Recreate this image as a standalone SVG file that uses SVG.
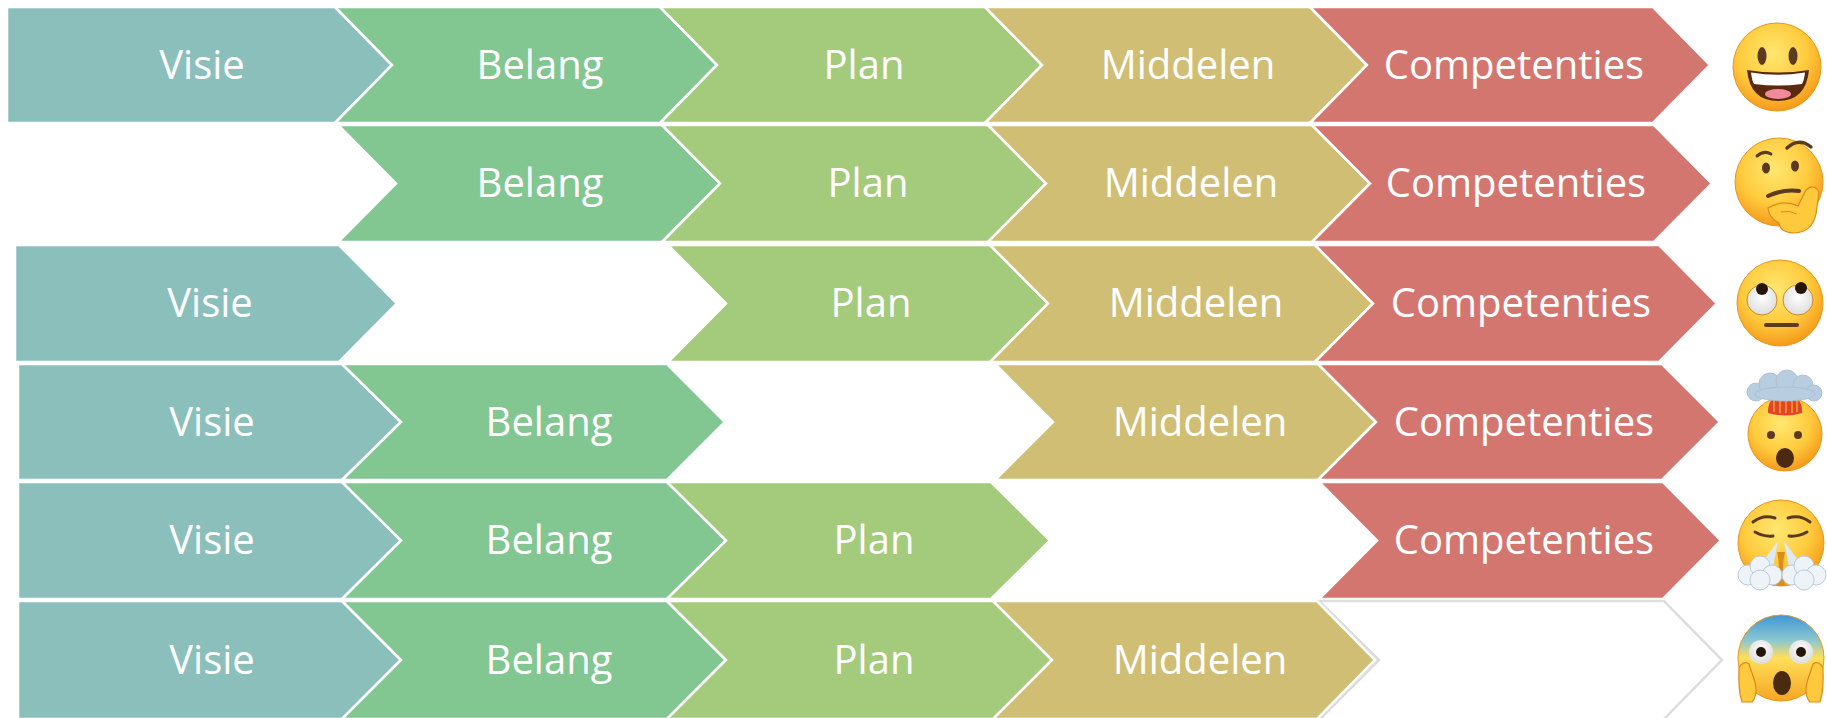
<svg xmlns="http://www.w3.org/2000/svg" width="1827" height="718" viewBox="0 0 1827 718">
<style>
  .sh { stroke: #ffffff; stroke-width: 2.5; stroke-linejoin: miter; }
  .visie { fill: #8ABFBC; }
  .belang { fill: #82C692; }
  .plan { fill: #A4CA7C; }
  .middelen { fill: #D0BE74; }
  .comp { fill: #D47670; }
  .lbl { font-family: "Open Sans", "Liberation Sans", sans-serif; font-size: 40px; fill: #ffffff; text-anchor: middle; }
  .ink { fill: #5B3A1E; }
  .line { fill: none; stroke: #5B3A1E; stroke-linecap: round; }
  .face { fill: url(#faceG); stroke: #E8961A; stroke-width: 1; }
  .hand { fill: #FFC93E; stroke: #D98A17; stroke-width: 1.2; }
  .cloud { fill: #EEF3F8; stroke: #B9CCDD; stroke-width: 1; }
</style>
<defs>
  <radialGradient id="faceG" cx="45%" cy="35%" r="65%">
    <stop offset="0%" stop-color="#FFE771"/>
    <stop offset="60%" stop-color="#FFCB3D"/>
    <stop offset="100%" stop-color="#F49A1C"/>
  </radialGradient>
  <linearGradient id="fearG" x1="0" y1="0" x2="0" y2="1">
    <stop offset="0%" stop-color="#3F97D6"/>
    <stop offset="30%" stop-color="#8DC8D0"/>
    <stop offset="50%" stop-color="#FFDF5A"/>
    <stop offset="100%" stop-color="#F5A623"/>
  </linearGradient>
  <radialGradient id="eyeW" cx="50%" cy="40%" r="60%">
    <stop offset="0%" stop-color="#FFFFFF"/>
    <stop offset="100%" stop-color="#DCDCDC"/>
  </radialGradient>
</defs>

<!-- Row 1 -->
<g id="r1-visie"><polygon class="sh visie" points="7,7 335,7 392,65 335,123 7,123"/><text class="lbl" x="202" y="79">Visie</text></g>
<g id="r1-belang"><polygon class="sh belang" points="335,7 660,7 717,65 660,123 335,123 392,65"/><text class="lbl" x="540" y="79">Belang</text></g>
<g id="r1-plan"><polygon class="sh plan" points="660,7 985,7 1042,65 985,123 660,123 717,65"/><text class="lbl" x="864" y="79">Plan</text></g>
<g id="r1-middelen"><polygon class="sh middelen" points="985,7 1310,7 1367,65 1310,123 985,123 1042,65"/><text class="lbl" x="1188" y="79">Middelen</text></g>
<g id="r1-comp"><polygon class="sh comp" points="1310,7 1653,7 1710,65 1653,123 1310,123 1367,65"/><text class="lbl" x="1514" y="79">Competenties</text></g>

<!-- Row 2 -->
<g id="r2-belang"><polygon class="sh belang" points="338,125 662,125 720,183.5 662,242 338,242 396,183.5"/><text class="lbl" x="540" y="197">Belang</text></g>
<g id="r2-plan"><polygon class="sh plan" points="662,125 988,125 1046,183.5 988,242 662,242 720,183.5"/><text class="lbl" x="868" y="197">Plan</text></g>
<g id="r2-middelen"><polygon class="sh middelen" points="988,125 1312,125 1370,183.5 1312,242 988,242 1046,183.5"/><text class="lbl" x="1191" y="197">Middelen</text></g>
<g id="r2-comp"><polygon class="sh comp" points="1312,125 1654,125 1712,183.5 1654,242 1312,242 1370,183.5"/><text class="lbl" x="1516" y="197">Competenties</text></g>

<!-- Row 3 -->
<g id="r3-visie"><polygon class="sh visie" points="15,245 339,245 397,303.5 339,362 15,362"/><text class="lbl" x="210" y="317">Visie</text></g>
<g id="r3-plan"><polygon class="sh plan" points="668,245 990,245 1048,303.5 990,362 668,362 726,303.5"/><text class="lbl" x="871" y="317">Plan</text></g>
<g id="r3-middelen"><polygon class="sh middelen" points="990,245 1315,245 1373,303.5 1315,362 990,362 1048,303.5"/><text class="lbl" x="1196" y="317">Middelen</text></g>
<g id="r3-comp"><polygon class="sh comp" points="1315,245 1659,245 1717,303.5 1659,362 1315,362 1373,303.5"/><text class="lbl" x="1521" y="317">Competenties</text></g>

<!-- Row 4 -->
<g id="r4-visie"><polygon class="sh visie" points="18,364 342,364 401,422 342,480 18,480"/><text class="lbl" x="212" y="436">Visie</text></g>
<g id="r4-belang"><polygon class="sh belang" points="342,364 667,364 725,422 667,480 342,480 401,422"/><text class="lbl" x="549" y="436">Belang</text></g>
<g id="r4-middelen"><polygon class="sh middelen" points="995,364 1318,364 1376,422 1318,480 995,480 1053,422"/><text class="lbl" x="1200" y="436">Middelen</text></g>
<g id="r4-comp"><polygon class="sh comp" points="1318,364 1662,364 1720,422 1662,480 1318,480 1376,422"/><text class="lbl" x="1524" y="436">Competenties</text></g>

<!-- Row 5 -->
<g id="r5-visie"><polygon class="sh visie" points="18,482 342,482 401,540.5 342,599 18,599"/><text class="lbl" x="212" y="554">Visie</text></g>
<g id="r5-belang"><polygon class="sh belang" points="342,482 667,482 726,540.5 667,599 342,599 401,540.5"/><text class="lbl" x="549" y="554">Belang</text></g>
<g id="r5-plan"><polygon class="sh plan" points="667,482 991,482 1050,540.5 991,599 667,599 726,540.5"/><text class="lbl" x="874" y="554">Plan</text></g>
<g id="r5-comp"><polygon class="sh comp" points="1319,482 1663,482 1721,540.5 1663,599 1319,599 1377,540.5"/><text class="lbl" x="1524" y="554">Competenties</text></g>

<!-- Row 6 -->
<g id="r6-empty"><polyline points="1317,601 1664,601 1722,660 1664,719" fill="none" stroke="#DEDEDE" stroke-width="2.5"/></g>
<g id="r6-visie"><polygon class="sh visie" points="18,601 342,601 401,660 342,719 18,719"/><text class="lbl" x="212" y="674">Visie</text></g>
<g id="r6-belang"><polygon class="sh belang" points="342,601 667,601 726,660 667,719 342,719 401,660"/><text class="lbl" x="549" y="674">Belang</text></g>
<g id="r6-plan"><polygon class="sh plan" points="667,601 993,601 1052,660 993,719 667,719 726,660"/><text class="lbl" x="874" y="674">Plan</text></g>
<g id="r6-middelen"><polyline points="1319,602 1378,660 1319,719" fill="none" stroke="#DCDCDC" stroke-width="4"/><polygon class="sh middelen" points="993,601 1317,601 1375,660 1317,719 993,719 1052,660"/><text class="lbl" x="1200" y="674">Middelen</text></g>

<!-- Emoji 1: grinning -->
<g id="emoji-grin">
  <circle class="face" cx="1777" cy="67" r="44"/>
  <ellipse class="ink" cx="1762" cy="56" rx="4.5" ry="9"/>
  <ellipse class="ink" cx="1793" cy="56" rx="4.5" ry="9"/>
  <path d="M1747,70 Q1778,75 1809,70 Q1806,101 1778,101 Q1750,101 1747,70 Z" fill="#5A2A10"/>
  <path d="M1751,72.5 Q1778,77 1805,72.5 Q1804,81 1802,84 Q1778,87 1754,84 Q1752,81 1751,72.5 Z" fill="#FFFFFF"/>
  <ellipse cx="1778" cy="94" rx="13" ry="5" fill="#EE8A9A"/>
</g>

<!-- Emoji 2: thinking -->
<g id="emoji-think">
  <circle class="face" cx="1779" cy="182" r="44"/>
  <path class="line" stroke-width="3" d="M1757,156 Q1764,150 1771,154"/>
  <path class="line" stroke-width="3.5" d="M1787,148 Q1799,137 1811,147"/>
  <ellipse class="ink" cx="1766" cy="168" rx="4" ry="5.5"/>
  <ellipse class="ink" cx="1795" cy="166" rx="4" ry="5.5"/>
  <path class="line" stroke-width="4" d="M1768,196 Q1783,189 1799,191"/>
  <path class="hand" d="M1768,208 Q1782,199 1798,206 L1806,190 Q1814,183 1819,192 L1816,214 Q1812,233 1793,233 Q1780,232 1779,223 Q1769,218 1768,208 Z"/>
  <path d="M1781,212 Q1790,210 1797,214" fill="none" stroke="#D98A17" stroke-width="1"/>
</g>

<!-- Emoji 3: rolling eyes -->
<g id="emoji-roll">
  <circle class="face" cx="1780" cy="303" r="43"/>
  <circle cx="1762" cy="300" r="15" fill="url(#eyeW)" stroke="#D08A1E" stroke-width="1"/>
  <circle cx="1798" cy="300" r="15" fill="url(#eyeW)" stroke="#D08A1E" stroke-width="1"/>
  <circle cx="1762" cy="289" r="6" fill="#24160A"/>
  <circle cx="1801" cy="288" r="6" fill="#24160A"/>
  <path class="line" stroke="#7A4A10" stroke-width="4" d="M1766,325 L1797,325"/>
</g>

<!-- Emoji 4: exploding head -->
<g id="emoji-explode">
  <circle class="face" cx="1785" cy="434" r="37"/>
  <path d="M1768,413 Q1767,396 1785,394 Q1803,396 1802,413 Q1785,418 1768,413 Z" fill="#E2452A"/>
  <path d="M1774,412 L1774,398 M1780,413 L1780,396 M1786,413 L1786,396 M1792,413 L1792,397 M1797,412 L1797,399" stroke="#F58A2A" stroke-width="2"/>
  <g fill="#B8CDE0" stroke="#A4BACF" stroke-width="0.8">
    <circle cx="1756" cy="392" r="9"/>
    <circle cx="1770" cy="384" r="11"/>
    <circle cx="1787" cy="381" r="11"/>
    <circle cx="1803" cy="385" r="10"/>
    <circle cx="1814" cy="393" r="8"/>
    <ellipse cx="1785" cy="394" rx="30" ry="7"/>
  </g>
  <circle class="ink" cx="1771" cy="435" r="4"/>
  <circle class="ink" cx="1798" cy="435" r="4"/>
  <ellipse cx="1785" cy="458" rx="9" ry="10" fill="#4A2A10"/>
</g>

<!-- Emoji 5: steam from nose -->
<g id="emoji-steam">
  <circle class="face" cx="1781" cy="543" r="43"/>
  <path class="line" stroke-width="3" d="M1753,522 Q1763,514 1775,518"/>
  <path class="line" stroke-width="3" d="M1788,518 Q1800,514 1810,522"/>
  <path class="line" stroke-width="3" d="M1755,532 Q1764,537 1773,536"/>
  <path class="line" stroke-width="3" d="M1789,536 Q1798,537 1807,532"/>
  <path d="M1778,541 L1758,568 L1772,572 Z" fill="#DDEAF5"/>
  <path d="M1784,541 L1804,568 L1790,572 Z" fill="#DDEAF5"/>
  <path d="M1777,552 Q1781,568 1777,586 L1785,586 Q1781,568 1785,552 Z" fill="#E08A1A"/>
  <g class="cloud">
    <circle cx="1748" cy="575" r="10"/>
    <circle cx="1760" cy="566" r="10"/>
    <circle cx="1772" cy="575" r="10"/>
    <circle cx="1760" cy="580" r="10"/>
    <circle cx="1792" cy="575" r="10"/>
    <circle cx="1804" cy="566" r="10"/>
    <circle cx="1816" cy="575" r="10"/>
    <circle cx="1804" cy="580" r="10"/>
  </g>
</g>

<!-- Emoji 6: screaming in fear -->
<g id="emoji-fear">
  <circle cx="1781" cy="658" r="43" fill="url(#fearG)" stroke="#E8961A" stroke-width="1"/>
  <circle cx="1761" cy="652" r="12" fill="url(#eyeW)"/>
  <circle cx="1801" cy="652" r="12" fill="url(#eyeW)"/>
  <circle cx="1761" cy="652" r="5" fill="#24160A"/>
  <circle cx="1801" cy="652" r="5" fill="#24160A"/>
  <ellipse cx="1782" cy="683" rx="9" ry="12" fill="#4A2A10"/>
  <path class="hand" d="M1739,668 Q1743,660 1749,664 L1755,682 Q1758,696 1752,702 L1742,702 Q1738,690 1739,668 Z"/>
  <path class="hand" d="M1823,668 Q1819,660 1813,664 L1807,682 Q1804,696 1810,702 L1820,702 Q1824,690 1823,668 Z"/>
</g>
</svg>
